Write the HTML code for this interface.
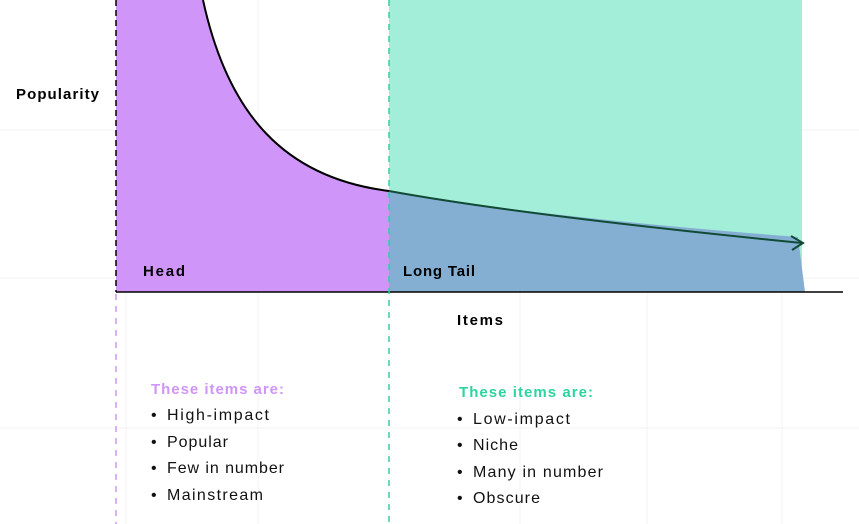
<!DOCTYPE html>
<html><head><style>
body{margin:0;background:#fff;}
svg{display:block;font-family:"Liberation Sans",sans-serif;}
</style></head><body>
<svg width="859" height="524" viewBox="0 0 859 524">
<g stroke="#f3f3f3" stroke-width="1">
<line x1="126" y1="0" x2="126" y2="524"/><line x1="258" y1="0" x2="258" y2="524"/>
<line x1="520" y1="0" x2="520" y2="524"/><line x1="647" y1="0" x2="647" y2="524"/>
<line x1="782" y1="0" x2="782" y2="524"/>
<line x1="0" y1="130" x2="859" y2="130"/><line x1="0" y1="278" x2="859" y2="278"/>
<line x1="0" y1="428" x2="859" y2="428"/>
</g>
<rect x="389" y="0" width="413" height="292" fill="#a3eed9"/>
<path d="M116,0 L203,0 C228,115 285,178 389,191 L389,292 L116,292Z" fill="#cf95f9"/>
<path d="M389,191 Q520,215 798,237 L805,292 L389,292Z" fill="#84afd3"/>
<path d="M203,0 C228,115 285,178 389,191" fill="none" stroke="#000" stroke-width="2"/>
<path d="M389,191 Q520,215 802,243" fill="none" stroke="#114a35" stroke-width="2"/>
<path d="M791,236 L803,243 L792,250" fill="none" stroke="#114a35" stroke-width="2"/>
<line x1="116" y1="292" x2="843" y2="292" stroke="#000" stroke-width="1.5"/>
<line x1="116" y1="0" x2="116" y2="292" stroke="#000" stroke-width="1.5" stroke-dasharray="6,4"/>
<line x1="116" y1="294" x2="116" y2="524" stroke="#cf95f9" stroke-width="1.5" stroke-dasharray="6,6"/>
<line x1="389" y1="0" x2="389" y2="524" stroke="#2dd4a0" stroke-width="1.5" stroke-dasharray="6,6"/>
<g font-weight="bold" font-size="15" fill="#000" lengthAdjust="spacingAndGlyphs">
<text x="16" y="99" textLength="83">Popularity</text>
<text x="143" y="276" textLength="42">Head</text>
<text x="403" y="276" textLength="72">Long Tail</text>
<text x="457" y="325" textLength="46">Items</text>
</g>
<text x="151" y="394" font-size="15" font-weight="bold" fill="#cf95f9" textLength="133">These items are:</text>
<text x="459" y="397" font-size="15" font-weight="bold" fill="#2dd4a0" textLength="134">These items are:</text>
<g font-size="16" fill="#111">
<text x="151" y="420">•</text><text x="167" y="420" textLength="102">High-impact</text>
<text x="151" y="447">•</text><text x="167" y="447" textLength="61">Popular</text>
<text x="151" y="473">•</text><text x="167" y="473" textLength="117">Few in number</text>
<text x="151" y="500">•</text><text x="167" y="500" textLength="96">Mainstream</text>
<text x="457" y="424">•</text><text x="473" y="424" textLength="97">Low-impact</text>
<text x="457" y="450">•</text><text x="473" y="450" textLength="45">Niche</text>
<text x="457" y="477">•</text><text x="473" y="477" textLength="130">Many in number</text>
<text x="457" y="503">•</text><text x="473" y="503" textLength="67">Obscure</text>
</g>
</svg>
</body></html>
